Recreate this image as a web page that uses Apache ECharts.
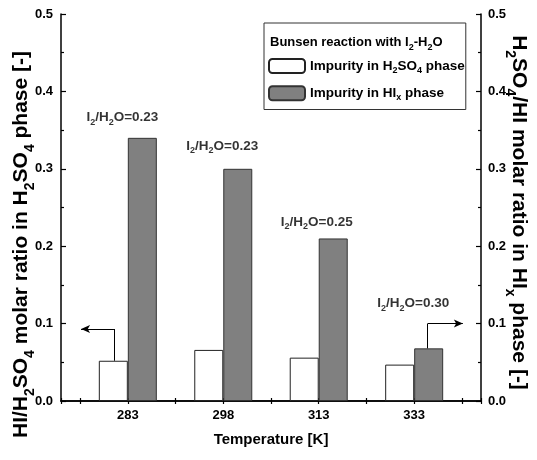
<!DOCTYPE html>
<html>
<head>
<meta charset="utf-8">
<script src="https://cdn.jsdelivr.net/npm/echarts@6/dist/echarts.min.js"></script>
<style>
html,body{margin:0;padding:0;background:#fff;}
#c{width:537px;height:460px;}
</style>
</head>
<body>
<div id="c"></div>
<script>
// ---- data ----
var categories = ['283', '298', '313', '333'];            // Temperature [K]
var h2so4Phase = [0.052, 0.066, 0.056, 0.047];            // HI/H2SO4 in H2SO4 phase (left axis)
var hixPhase   = [0.340, 0.300, 0.210, 0.068];            // H2SO4/HI in HIx phase (right axis)
var i2h2oRatio = ['0.23', '0.23', '0.25', '0.30'];        // I2/H2O annotations
var yTicks     = [0.0, 0.1, 0.2, 0.3, 0.4, 0.5];

var FONT = "'Liberation Sans',Arial,sans-serif";

function richSet(size) {
  var sub = Math.round(size * 0.68);
  return {
    a: {fontSize: size, fontWeight: 'bold', fontFamily: FONT, color: '#000', lineHeight: size, verticalAlign: 'top'},
    s: {fontSize: sub, fontWeight: 'bold', fontFamily: FONT, color: '#000',
        lineHeight: sub, padding: [Math.round(size * 0.55), 0, 0, 0], verticalAlign: 'top'}
  };
}

var chart = echarts.init(document.getElementById('c'), null, {renderer: 'canvas'});

// frame grid (value x scale: categories sit at 1..4)
var xMin = 0.3, xMax = 4.7;
var G = {left: 61, right: 56, top: 14, bottom: 59};
var plotW = 537 - G.left - G.right;
var unit = plotW / (xMax - xMin);
// bar grid: category bands aligned with positions 1..4 of the frame scale
var barLeft = G.left + (1 - 0.5 - xMin) * unit;
var barRight = 537 - (barLeft + categories.length * unit);

var annot = [
  {dx: -0.057, y: 0.3665},
  {dx: -0.01, y: 0.330},
  {dx: -0.02, y: 0.231},
  {dx: -0.01, y: 0.126}
];

var lineStyleArrow = {color: '#000', width: 1, type: 'solid'};
var axisLineStyle = {color: '#000', width: 1.5};
var tickStyle = {color: '#000', width: 1.2};

function yAxisFrame(pos, margin, name, gap, rot, pad) {
  return {
    gridIndex: 0, type: 'value', min: yTicks[0], max: yTicks[yTicks.length - 1], interval: 0.1, position: pos,
    axisLine: {show: true, lineStyle: axisLineStyle},
    axisTick: {show: true, inside: true, length: 5, lineStyle: tickStyle},
    minorTick: {show: true, splitNumber: 2, length: 3, lineStyle: tickStyle},
    splitLine: {show: false},
    axisLabel: {margin: margin, color: '#000', fontSize: 13, fontWeight: 'bold', fontFamily: FONT,
      formatter: function (v) { return v.toFixed(1); }},
    name: name, nameLocation: 'middle', nameGap: gap, nameRotate: rot, nameMoveOverlap: false,
    nameTextStyle: {rich: richSet(21), padding: pad}
  };
}

var option = {
  animation: false,
  backgroundColor: '#fff',
  grid: [
    {left: G.left, right: G.right, top: G.top, bottom: G.bottom, containLabel: false, outerBoundsMode: 'none'},
    {left: barLeft, right: barRight, top: G.top, bottom: G.bottom, containLabel: false, outerBoundsMode: 'none'}
  ],
  xAxis: [
    {
      gridIndex: 0, type: 'value', min: xMin, max: xMax, splitNumber: 9, position: 'bottom',
      axisLine: {show: true, lineStyle: axisLineStyle},
      axisTick: {show: true, inside: true, length: 3, lineStyle: tickStyle},
      splitLine: {show: false},
      axisLabel: {
        show: true, margin: 8, color: '#000', fontSize: 13, fontWeight: 'bold', fontFamily: FONT,
        formatter: function (v) {
          var r = Math.round(v);
          return Math.abs(v - r) < 1e-6 && r >= 1 && r <= categories.length ? categories[r - 1] : '';
        }
      },
      name: 'Temperature [K]', nameLocation: 'middle', nameGap: 31, nameMoveOverlap: false,
      nameTextStyle: {color: '#000', fontSize: 15, fontWeight: 'bold', fontFamily: FONT}
    },
    {
      gridIndex: 0, type: 'value', min: xMin, max: xMax, splitNumber: 9, position: 'top',
      axisLine: {show: true, lineStyle: axisLineStyle},
      axisTick: {show: true, inside: true, length: 3, lineStyle: tickStyle},
      splitLine: {show: false}, axisLabel: {show: false}
    },
    {
      gridIndex: 1, type: 'category', data: categories, boundaryGap: true,
      axisLine: {show: false}, axisTick: {show: false}, axisLabel: {show: false}, splitLine: {show: false}
    }
  ],
  yAxis: [
    yAxisFrame('left', 8,
      '{a|HI/H}{s|2}{a|SO}{s|4}{a| molar ratio in H}{s|2}{a|SO}{s|4}{a| phase [-]}', 29, 90, [0, 74, 0, 0]),
    yAxisFrame('right', 7,
      '{a|H}{s|2}{a|SO}{s|4}{a|/HI molar ratio in HI}{s|x}{a| phase [-]}', 27, -90, [0, 0, 0, 10]),
    {gridIndex: 1, type: 'value', min: yTicks[0], max: yTicks[yTicks.length - 1], position: 'left', show: false},
    {gridIndex: 1, type: 'value', min: yTicks[0], max: yTicks[yTicks.length - 1], position: 'right', show: false}
  ],
  legend: {
    show: true, orient: 'vertical', left: 264, top: 23,
    padding: [35, 1, 7, 4], itemGap: 10, itemWidth: 36, itemHeight: 14,
    borderColor: '#333', borderWidth: 1, backgroundColor: '#fff',
    data: ['h2so4', 'hix'],
    selectedMode: false,
    formatter: function (name) {
      return name === 'h2so4'
        ? '{a|Impurity in H}{s|2}{a|SO}{s|4}{a| phase}'
        : '{a|Impurity in HI}{s|x}{a| phase}';
    },
    textStyle: {rich: richSet(13.5)}
  },
  graphic: [{
    type: 'text', left: 270, top: 36, z: 100,
    style: {
      text: '{a|Bunsen reaction with I}{s|2}{a|-H}{s|2}{a|O}',
      rich: richSet(13)
    }
  }],
  series: [
    {
      name: 'h2so4', type: 'bar', xAxisIndex: 2, yAxisIndex: 2,
      barWidth: 29, barGap: '0%',
      itemStyle: {color: '#fff', borderColor: '#222', borderWidth: 1},
      data: h2so4Phase
    },
    {
      name: 'hix', type: 'bar', xAxisIndex: 2, yAxisIndex: 3,
      barWidth: 29, barGap: '0%',
      itemStyle: {color: '#808080', borderColor: '#333', borderWidth: 1},
      data: hixPhase
    },
    {
      name: 'annot', type: 'scatter', xAxisIndex: 0, yAxisIndex: 0,
      symbolSize: 0, silent: true, z: 10,
      data: categories.map(function (c, i) { return [i + 1 + annot[i].dx, annot[i].y]; }),
      label: {
        show: true, position: 'inside',
        formatter: function (params) {
          return '{a|I}{s|2}{a|/H}{s|2}{a|O=' + i2h2oRatio[params.dataIndex] + '}';
        },
        rich: richSet(13.5)
      },
      markLine: {
        silent: true, symbol: ['none', 'none'], label: {show: false},
        lineStyle: lineStyleArrow,
        data: [
          [{coord: [0.855, h2so4Phase[0]]}, {coord: [0.855, 0.093]}],
          [{coord: [0.855, 0.093]}, {coord: [0.51, 0.093], symbol: 'arrow', symbolSize: [6, 9]}],
          [{coord: [4.142, hixPhase[3]]}, {coord: [4.142, 0.1]}],
          [{coord: [4.142, 0.1]}, {coord: [4.51, 0.1], symbol: 'arrow', symbolSize: [6, 9]}]
        ]
      }
    }
  ]
};
chart.setOption(option);
</script>
</body>
</html>
